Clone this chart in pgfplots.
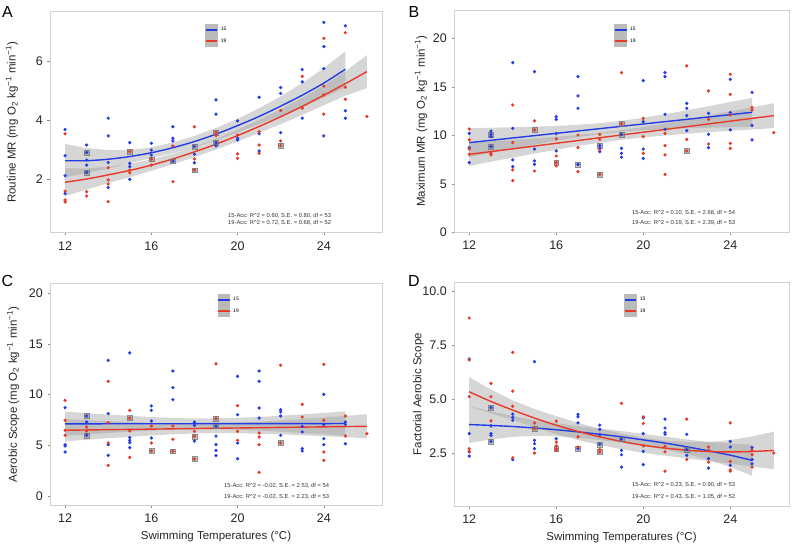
\documentclass[border=0pt]{standalone}
\usepackage{fontspec}
\setmainfont{Liberation Sans}
\usepackage{pgfplots}
\pgfplotsset{compat=1.18}

\definecolor{c15}{RGB}{35,60,230}
\definecolor{c19}{RGB}{232,58,40}

\pgfplotsset{
  panel/.style={scale only axis, xmin=11.3, xmax=26.7, xtick={12,16,20,24},
    axis line style={black!18, line width=0.9bp},
    tick style={black!45, line width=0.5bp}, tick align=outside,
    major tick length=2.5bp, tick pos=left,
    /pgf/number format/assume math mode=true,
    tick label style={font=\fontsize{12.5bp}{14bp}\selectfont, text=black!85},
    xticklabel style={inner sep=0pt, yshift=-6bp},
    yticklabel style={inner sep=0pt, xshift=-4.5bp},
    label style={font=\fontsize{11.5bp}{13bp}\selectfont, text=black!85},
    legend cell align=left,
    legend style={anchor=north west, draw=none, fill=none, inner sep=0pt, outer sep=0pt,
      row sep=0pt, column sep=2.5bp, nodes={inner sep=0pt},
      font=\fontsize{5bp}{6bp}\selectfont},
    legend image code/.code={%
      \fill[black!27] (0bp,-5bp) rectangle (11.5bp,5bp);
      \draw[##1, line width=1.9bp] (0bp,0bp) -- (11.5bp,0bp);}},
  bdot/.style={only marks, mark=*, mark size=1.45bp, color=c15, forget plot},
  rdot/.style={only marks, mark=*, mark size=1.45bp, color=c19, forget plot},
  sq/.style={only marks, mark=square*, mark size=2.4bp, forget plot,
    mark options={fill=black!45, draw=black!55, fill opacity=0.55, draw opacity=0.8, line width=0.4bp}},
  rib/.style={fill=black!40, fill opacity=0.4, draw=none, forget plot},
  bfit/.style={c15, line width=1.4bp, smooth, no markers},
  rfit/.style={c19, line width=1.4bp, smooth, no markers},
}

% fit statistics: x y1 y2 text1 text2
\newcommand{\stats}[5]{%
  \node[anchor=west, inner sep=0pt, font=\fontsize{5.8bp}{7bp}\selectfont, text=black!80] at (rel axis cs:#1,#2) {#4};
  \node[anchor=west, inner sep=0pt, font=\fontsize{5.8bp}{7bp}\selectfont, text=black!80] at (rel axis cs:#1,#3) {#5};
}
\newcommand{\Rsq}{R\textasciicircum 2}

\begin{document}
\begin{tikzpicture}
\path[use as bounding box] (0,0) rectangle (792bp,544bp);

% ---------------- A: routine MR
\begin{axis}[panel, at={(50bp,311.3bp)}, anchor=south west, width=332bp, height=221bp,
  ymin=0.18, ymax=7.67, ytick={2,4,6},
  legend style={at={(rel axis cs:0.467,0.944)}},
  ylabel={Routine MR (mg O\textsubscript{2} kg\textsuperscript{−1} min\textsuperscript{−1})},
  ylabel style={at={(axis description cs:-0.1145,0.5)}, anchor=center}]
\addplot[sq] coordinates {(13,2.9)(13,2.22)(15,2.93)(16,2.67)(17,2.6)(18,3.1)(18,2.3)(19,3.58)(19,3.23)(22,3.13)};
\addplot[bdot] coordinates {
 (12,3.68)(12,2.79)(12,2.11)(12,1.51)
 (13,3.15)(13,2.9)(13,2.64)(13,2.47)(13,2.22)
 (14,4.06)(14,3.46)(14,2.56)(14,1.71)
 (15,3.23)(15,2.53)(15,2.42)(15,1.99)
 (16,3.21)(16,2.98)(16,2.81)
 (17,3.77)(17,3.38)(17,3.29)(17,2.6)
 (18,3.1)(18,2.84)(18,2.55)
 (19,4.68)(19,4.2)(19,3.23)(19,3.12)
 (20,3.97)(20,3.38)(20,3.32)
 (21,4.77)(21,3.53)(21,2.95)
 (22,5.1)(22,4.9)(22,3.57)
 (23,5.71)(23,5.29)(23,4.06)
 (24,7.31)(24,6.49)(24,5.74)(24,3.46)
 (25,7.19)(25,4.31)(25,4.06)};
\addplot[rdot] coordinates {
 (12,3.53)(12,1.59)(12,1.29)(12,1.22)
 (13,1.57)(13,1.42)
 (14,2.38)(14,1.97)(14,1.83)(14,1.23)
 (15,2.93)(15,2.3)(15,2.21)
 (16,2.67)(16,2.47)
 (17,3.12)(17,1.91)
 (18,3.77)(18,2.68)(18,2.3)
 (19,3.58)(19,3.47)
 (20,3.49)(20,2.85)(20,2.70)
 (21,3.6)(21,3.15)(21,2.87)
 (22,4.32)(22,3.29)(22,3.13)
 (23,5.48)(23,4.40)
 (24,6.77)(24,5.15)(24,4.85)(24,4.2)
 (25,6.96)(25,5.11)(25,4.7)
 (26,4.12)};
\addplot[rib] coordinates {
 (12,3.19)(13,3.05)(14,2.98)(15,2.98)(16,3.07)(17,3.24)(18,3.46)(19,3.73)(20,4.04)(21,4.40)(22,4.80)(23,5.25)(24,5.75)(25,6.33)
 (25,5.10)(24,4.76)(23,4.43)(22,4.14)(21,3.86)(20,3.58)(19,3.31)(18,3.08)(17,2.88)(16,2.71)(15,2.54)(14,2.36)(13,2.20)(12,2.06)};
\addplot[rib] coordinates {
 (12,2.36)(13,2.36)(14,2.42)(15,2.52)(16,2.66)(17,2.86)(18,3.10)(19,3.36)(20,3.67)(21,4.00)(22,4.36)(23,4.75)(24,5.17)(25,5.65)(26,6.20)
 (26,5.08)(25,4.82)(24,4.50)(23,4.17)(22,3.86)(21,3.56)(20,3.27)(19,3.00)(18,2.74)(17,2.50)(16,2.28)(15,2.06)(14,1.86)(13,1.64)(12,1.42)};
\addplot[bfit] coordinates {(12,2.62)(13,2.62)(14,2.67)(15,2.76)(16,2.89)(17,3.06)(18,3.27)(19,3.52)(20,3.81)(21,4.12)(22,4.47)(23,4.84)(24,5.25)(25,5.72)};
\addlegendentry{15}
\addplot[rfit] coordinates {(12,1.89)(13,2.0)(14,2.14)(15,2.29)(16,2.47)(17,2.68)(18,2.92)(19,3.18)(20,3.47)(21,3.78)(22,4.11)(23,4.46)(24,4.84)(25,5.23)(26,5.64)};
\addlegendentry{19}
\stats{0.536}{0.077}{0.045}{15-Acc: \Rsq{} = 0.60, S.E. = 0.80, df = 53}{19-Acc: \Rsq{} = 0.72, S.E. = 0.68, df = 52}
\end{axis}

% ---------------- B: maximum MR
\begin{axis}[panel, at={(454bp,311.7bp)}, anchor=south west, width=335bp, height=222.3bp,
  ymin=0, ymax=22.96, ytick={0,5,10,15,20},
  legend style={at={(rel axis cs:0.478,0.937)}},
  ylabel={Maximum MR (mg O\textsubscript{2} kg\textsuperscript{−1} min\textsuperscript{−1})},
  ylabel style={at={(axis description cs:-0.0985,0.5)}, anchor=center}]
\addplot[sq] coordinates {(13,10.12)(13,8.85)(15,10.57)(16,7.19)(17,7.02)(18,8.95)(18,5.99)(19,11.19)(19,10.12)(22,8.4)};
\addplot[bdot] coordinates {
 (12,10.22)(12,8.74)(12,7.19)
 (13,10.46)(13,10.12)(13,9.88)(13,8.85)
 (14,17.52)(14,10.74)(14,7.47)(14,6.78)
 (15,16.59)(15,8.6)(15,7.37)(15,7.02)
 (16,11.95)(16,11.67)(16,10.2)(16,8.4)
 (17,16.08)(17,14.08)(17,12.81)(17,7.02)
 (18,8.95)(18,8.67)(18,8.33)
 (19,10.12)(19,8.67)(19,8.16)(19,7.75)
 (20,15.66)(20,11.43)(20,8.6)(20,7.64)
 (21,16.49)(21,16.08)(21,12.19)(21,10.64)
 (22,13.32)(22,12.81)(22,12.05)(22,10.5)
 (23,12.29)(23,10.12)(23,8.74)
 (24,15.8)(24,12.36)(24,10.57)
 (25,14.46)(25,11.05)(25,9.54)};
\addplot[rdot] coordinates {
 (12,10.67)(12,9.54)(12,8.6)(12,8.05)
 (13,8.16)(13,7.99)
 (14,13.15)(14,9.26)(14,6.44)(14,5.34)
 (15,11.5)(15,10.57)(15,6.33)
 (16,9.64)(16,7.88)(16,7.19)(16,6.85)
 (17,10.05)(17,8.74)(17,6.27)
 (18,10.12)(18,9.6)(18,8.5)(18,5.99)
 (19,16.49)(19,11.19)
 (20,11.77)(20,9.88)(20,8.16)
 (21,10.22)(21,8.95)(21,7.99)(21,5.99)
 (22,17.18)(22,9.6)(22,8.4)
 (23,14.6)(23,11.67)(23,9.12)
 (24,16.32)(24,14.25)(24,12.12)(24,9.19)(24,8.67)
 (25,12.91)(25,12.63)
 (26,10.29)};
\addplot[rib] coordinates {
 (12,10.76)(13,10.80)(14,10.85)(15,10.91)(16,10.99)(17,11.11)(18,11.27)(19,11.51)(20,11.83)(21,12.20)(22,12.60)(23,13.02)(24,13.45)(25,13.89)
 (25,10.89)(24,10.85)(23,10.80)(22,10.74)(21,10.67)(20,10.55)(19,10.39)(18,10.15)(17,9.83)(16,9.46)(15,9.05)(14,8.63)(13,8.20)(12,7.76)};
\addplot[rib] coordinates {
 (12,9.25)(13,9.39)(14,9.53)(15,9.69)(16,9.86)(17,10.05)(18,10.27)(19,10.55)(20,10.88)(21,11.24)(22,11.64)(23,12.05)(24,12.48)(25,12.90)(26,13.34)
 (26,10.76)(25,10.62)(24,10.48)(23,10.33)(22,10.18)(21,10.00)(20,9.80)(19,9.55)(18,9.25)(17,8.91)(16,8.52)(15,8.13)(14,7.71)(13,7.29)(12,6.85)};
\addplot[bfit] coordinates {(12,9.26)(25,12.39)};
\addlegendentry{15}
\addplot[rfit] coordinates {(12,8.05)(26,12.05)};
\addlegendentry{19}
\stats{0.531}{0.090}{0.043}{15-Acc: \Rsq{} = 0.10, S.E. = 2.68, df = 54}{19-Acc: \Rsq{} = 0.19, S.E. = 2.39, df = 53}
\end{axis}

% ---------------- C: aerobic scope
\begin{axis}[panel, at={(50bp,38.7bp)}, anchor=south west, width=332bp, height=221.6bp,
  ymin=-0.88, ymax=20.91, ytick={0,5,10,15,20},
  legend style={at={(rel axis cs:0.504,0.953)}},
  xlabel={Swimming Temperatures (°C)},
  xlabel style={at={(axis description cs:0.5,-0.143)}, anchor=center},
  ylabel={Aerobic Scope (mg O\textsubscript{2} kg\textsuperscript{−1} min\textsuperscript{−1})},
  ylabel style={at={(axis description cs:-0.111,0.5)}, anchor=center}]
\addplot[sq] coordinates {(13,7.9)(13,6.0)(15,7.7)(16,4.46)(17,4.43)(18,5.9)(18,3.67)(19,7.64)(19,6.89)(22,5.25)};
\addplot[bdot] coordinates {
 (12,8.72)(12,5.08)(12,4.95)(12,4.36)
 (13,7.9)(13,7.31)(13,6.0)
 (14,13.38)(14,8.13)(14,5.08)(14,4.03)
 (15,14.1)(15,5.77)(15,5.51)(15,5.28)(15,4.79)
 (16,8.89)(16,8.46)(16,7.41)(16,5.74)
 (17,12.33)(17,10.69)(17,9.51)
 (18,7.31)(18,6.98)(18,5.44)
 (19,6.89)(19,5.93)(19,5.08)(19,4.52)(19,4.0)
 (20,11.8)(20,8.03)(20,5.25)(20,3.7)
 (21,12.33)(21,11.31)(21,8.69)(21,7.7)
 (22,8.52)(22,8.3)(22,7.9)(22,6.0)
 (23,6.89)(23,6.33)(23,4.69)(23,4.46)
 (24,10.03)(24,7.05)(24,5.67)(24,5.08)
 (25,7.31)(25,7.08)(25,5.18)};
\addplot[rdot] coordinates {
 (12,9.44)(12,7.48)(12,6.49)(12,6.0)
 (13,6.82)(13,6.43)
 (14,11.31)(14,7.25)(14,5.25)(14,3.05)
 (15,8.46)(15,7.7)(15,6.43)(15,3.84)
 (16,6.92)(16,5.25)(16,4.46)
 (17,6.92)(17,5.61)(17,4.43)
 (18,6.39)(18,5.9)(18,3.67)
 (19,13.02)(19,7.64)
 (20,8.92)(20,6.39)(20,5.51)
 (21,6.23)(21,5.84)(21,5.08)(21,2.36)
 (22,12.89)(22,5.25)
 (23,9.05)(23,7.8)
 (24,12.98)(24,7.48)(24,4.36)(24,3.54)
 (25,7.9)(25,5.93)
 (26,6.16)};
\addplot[rib] coordinates {
 (12,8.33)(13,8.18)(14,8.04)(15,7.91)(16,7.80)(17,7.71)(18,7.66)(19,7.67)(20,7.72)(21,7.81)(22,7.92)(23,8.06)(24,8.20)(25,8.36)
 (25,5.96)(24,6.10)(23,6.22)(22,6.36)(21,6.47)(20,6.56)(19,6.61)(18,6.60)(17,6.55)(16,6.46)(15,6.35)(14,6.22)(13,6.08)(12,5.93)};
\addplot[rib] coordinates {
 (12,7.60)(13,7.50)(14,7.40)(15,7.31)(16,7.23)(17,7.18)(18,7.16)(19,7.18)(20,7.24)(21,7.34)(22,7.46)(23,7.61)(24,7.76)(25,7.91)(26,8.07)
 (26,5.71)(25,5.81)(24,5.92)(23,6.01)(22,6.10)(21,6.16)(20,6.20)(19,6.22)(18,6.18)(17,6.10)(16,5.99)(15,5.85)(14,5.72)(13,5.56)(12,5.40)};
\addplot[bfit] coordinates {(12,7.13)(25,7.16)};
\addlegendentry{15}
\addplot[rfit] coordinates {(12,6.50)(26,6.89)};
\addlegendentry{19}
\stats{0.524}{0.087}{0.039}{15-Acc: \Rsq{} = -0.02, S.E. = 2.53, df = 54}{19-Acc: \Rsq{} = -0.02, S.E. = 2.23, df = 53}
\end{axis}

% ---------------- D: factorial aerobic scope
\begin{axis}[panel, at={(454bp,37.7bp)}, anchor=south west, width=335bp, height=224.3bp,
  ymin=0.03, ymax=10.43, ytick={2.5,5,7.5,10},
  y tick label style={/pgf/number format/fixed, /pgf/number format/fixed zerofill, /pgf/number format/precision=1},
  legend style={at={(rel axis cs:0.507,0.946)}},
  xlabel={Swimming Temperatures (°C)},
  xlabel style={at={(axis description cs:0.5,-0.141)}, anchor=center},
  ylabel={Factorial Aerobic Scope},
  ylabel style={at={(axis description cs:-0.106,0.5)}, anchor=center}]
\addplot[sq] coordinates {(13,4.6)(13,3.04)(15,3.63)(16,2.7)(17,2.7)(18,2.9)(18,2.55)(19,3.14)(22,2.66)};
\addplot[bdot] coordinates {
 (12,6.86)(12,3.4)(12,2.55)(12,2.36)
 (13,4.6)(13,3.76)(13,3.4)(13,3.32)(13,3.04)
 (14,4.3)(14,4.15)(14,4.02)(14,2.19)
 (15,6.74)(15,3.09)(15,2.93)(15,2.7)
 (16,3.17)
 (17,4.29)(17,4.18)(17,3.9)(17,2.7)
 (18,3.79)(18,3.6)(18,3.35)(18,2.9)
 (19,3.14)(19,2.62)(19,2.42)(19,1.85)
 (20,4.13)(20,3.4)(20,2.58)(20,1.96)
 (21,4.07)(21,3.66)(21,3.45)(21,3.37)
 (22,3.37)(22,2.66)(22,2.39)
 (23,2.24)(23,1.8)
 (24,3.04)(24,2.78)(24,1.93)
 (25,2.75)(25,2.2)(25,2.0)};
\addplot[rdot] coordinates {
 (12,8.76)(12,6.82)(12,5.11)(12,2.7)(12,2.58)
 (13,5.73)(13,5.11)(13,3.99)
 (14,7.17)(14,5.37)(14,4.67)(14,2.28)
 (15,3.9)(15,3.63)(15,2.5)
 (16,3.98)(16,3.01)(16,2.83)(16,2.7)(16,2.62)
 (17,3.25)(17,2.78)
 (18,2.66)(18,2.55)
 (19,4.8)
 (20,4.18)(20,3.87)(20,2.83)
 (21,2.81)(21,2.55)(21,1.66)
 (22,4.07)(22,2.2)
 (23,2.78)(23,2.62)(23,2.08)
 (24,3.9)(24,2.11)(24,1.72)(24,1.66)
 (25,2.62)(25,2.42)(25,1.85)
 (26,2.5)};
\addplot[rib] coordinates {
 (12,4.67)(13,4.43)(14,4.21)(15,4.02)(16,3.88)(17,3.75)(18,3.64)(19,3.52)(20,3.39)(21,3.26)(22,3.13)(23,3.02)(24,2.95)(25,2.88)
 (25,1.44)(24,1.85)(23,2.18)(22,2.45)(21,2.66)(20,2.83)(19,2.98)(18,3.10)(17,3.21)(16,3.28)(15,3.30)(14,3.25)(13,3.13)(12,2.97)};
\addplot[rib] coordinates {
 (12,6.02)(13,5.44)(14,4.94)(15,4.54)(16,4.21)(17,3.90)(18,3.63)(19,3.40)(20,3.21)(21,3.08)(22,3.01)(23,3.01)(24,3.10)(25,3.27)(26,3.49)
 (26,1.75)(25,1.87)(24,2.00)(23,2.13)(22,2.25)(21,2.38)(20,2.51)(19,2.68)(18,2.87)(17,3.10)(16,3.37)(15,3.70)(14,4.04)(13,4.34)(12,4.66)};
\addplot[bfit] coordinates {(12,3.82)(13,3.78)(14,3.73)(15,3.66)(16,3.58)(17,3.48)(18,3.37)(19,3.25)(20,3.11)(21,2.96)(22,2.79)(23,2.60)(24,2.40)(25,2.16)};
\addlegendentry{15}
\addplot[rfit] coordinates {(12,5.34)(13,4.89)(14,4.49)(15,4.12)(16,3.79)(17,3.50)(18,3.25)(19,3.04)(20,2.86)(21,2.73)(22,2.63)(23,2.57)(24,2.55)(25,2.57)(26,2.62)};
\addlegendentry{19}
\stats{0.531}{0.097}{0.043}{15-Acc: \Rsq{} = 0.23, S.E. = 0.90, df = 53}{19-Acc: \Rsq{} = 0.43, S.E. = 1.05, df = 52}
\end{axis}

% panel letters
\node[font=\fontsize{16bp}{18bp}\selectfont] at (7.5bp,531.5bp) {A};
\node[font=\fontsize{16bp}{18bp}\selectfont] at (414bp,531.5bp) {B};
\node[font=\fontsize{16bp}{18bp}\selectfont] at (7.5bp,263bp) {C};
\node[font=\fontsize{16bp}{18bp}\selectfont] at (414bp,263bp) {D};
\end{tikzpicture}
\end{document}
